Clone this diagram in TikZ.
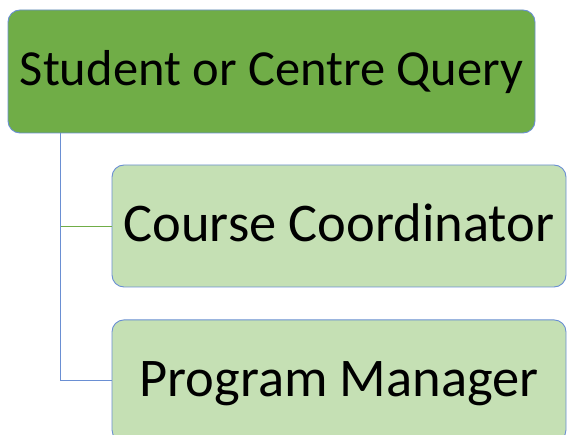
\documentclass[tikz,border=0pt]{standalone}
\usepackage{fontspec}
\setmainfont{Carlito}
\usepackage{tikz}
\usetikzlibrary{positioning}

\definecolor{edgeblue}{HTML}{6A8FD3}
\definecolor{darkgreen}{HTML}{70AD47}
\definecolor{lightgreen}{HTML}{C5E0B4}

\begin{document}
\begin{tikzpicture}[x=1pt,y=-1pt,
  topbox/.style={draw=edgeblue,line width=0.9pt,fill=darkgreen,rounded corners=12pt,
    minimum width=527pt,minimum height=123pt,inner sep=0pt,
    font=\fontsize{50.5}{58}\selectfont,text height=28.5pt,text depth=0pt},
  subbox/.style={draw=edgeblue,line width=0.9pt,fill=lightgreen,rounded corners=12pt,
    minimum width=454pt,minimum height=122pt,inner sep=0pt,
    font=\fontsize{54.5}{62}\selectfont,text height=32pt,text depth=0pt}]
  \useasboundingbox (0,0) rectangle (567,435);
  \node[topbox] (query) at (271.5,71.5) {Student or Centre Query};
  \node[subbox] (coord) at (339,226) {Course Coordinator};
  \node[subbox,below=32pt of coord] (manager) {Program Manager};
  \coordinate (trunk) at (60,133);
  % branches
  \draw[darkgreen,line width=0.9pt] (trunk |- coord.west) -- (coord.west);
  \draw[edgeblue,line width=0.9pt] (trunk) |- (manager.west);
\end{tikzpicture}
\end{document}
